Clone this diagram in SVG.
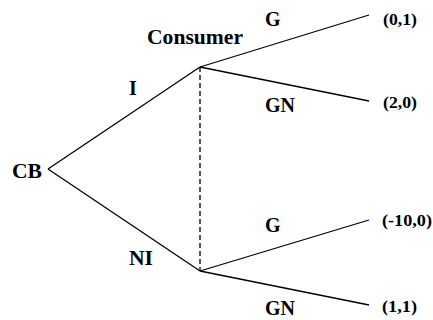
<svg xmlns="http://www.w3.org/2000/svg" width="433" height="320" viewBox="0 0 433 320">
<style>
.lbl{font-family:"Liberation Serif","Times New Roman",serif;font-weight:bold;font-size:20px;fill:#000}
.pay{font-family:"Liberation Serif","Times New Roman",serif;font-weight:bold;font-size:16px;fill:#000}
.edge{stroke:#000;stroke-width:1.3;fill:none}
.info{stroke:#000;stroke-width:1.3;stroke-dasharray:5,3;fill:none}
</style>
<rect width="433" height="320" fill="#fff"/>
<g id="connectors">
<line class="edge" x1="48" y1="169" x2="200" y2="67"/>
<line class="edge" x1="48" y1="169" x2="200" y2="271"/>
<line class="edge" x1="200" y1="67" x2="369" y2="15"/>
<line class="edge" x1="200" y1="67" x2="369" y2="101"/>
<line class="edge" x1="200" y1="271" x2="369" y2="220"/>
<line class="edge" x1="200" y1="271" x2="369" y2="305"/>
<line class="info" x1="200" y1="67" x2="200" y2="271"/>
<text class="lbl" x="129" y="95">I</text>
<text class="lbl" x="129" y="265" textLength="24" lengthAdjust="spacingAndGlyphs">NI</text>
<text class="lbl" x="265" y="26">G</text>
<text class="lbl" x="265" y="112">GN</text>
<text class="lbl" x="265" y="232">G</text>
<text class="lbl" x="265" y="315">GN</text>
</g>
<g id="cb"><text class="lbl" x="12" y="178" textLength="30" lengthAdjust="spacingAndGlyphs">CB</text></g>
<g id="consumer"><text class="lbl" x="147" y="44" textLength="96" lengthAdjust="spacingAndGlyphs">Consumer</text></g>
<g id="p1"><text class="pay" x="383" y="25" textLength="34" lengthAdjust="spacingAndGlyphs">(0,1)</text></g>
<g id="p2"><text class="pay" x="383" y="108" textLength="34" lengthAdjust="spacingAndGlyphs">(2,0)</text></g>
<g id="p3"><text class="pay" x="382" y="226" textLength="50" lengthAdjust="spacingAndGlyphs">(-10,0)</text></g>
<g id="p4"><text class="pay" x="382" y="312" textLength="35" lengthAdjust="spacingAndGlyphs">(1,1)</text></g>
</svg>
